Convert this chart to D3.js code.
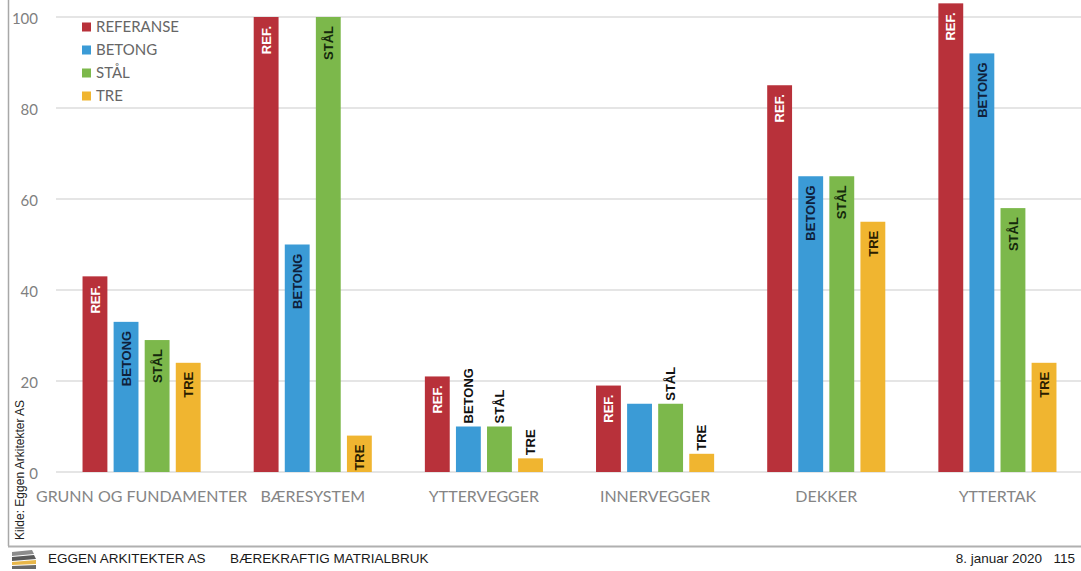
<!DOCTYPE html>
<html><head><meta charset="utf-8">
<script src="https://cdn.jsdelivr.net/npm/d3@7"></script>
<style>
html,body{margin:0;padding:0;background:#fff;}
svg{display:block;}
</style></head>
<body>
<svg id="chart" width="1081" height="571"></svg>
<script>
// ---- data ----
const categories = ["GRUNN OG FUNDAMENTER","BÆRESYSTEM","YTTERVEGGER","INNERVEGGER","DEKKER","YTTERTAK"];
const seriesNames = ["REFERANSE","BETONG","STÅL","TRE"];
const barLabels = ["REF.","BETONG","STÅL","TRE"];
const referanse = [43, 100, 21, 19, 85, 103];
const betong    = [33, 50, 10, 15, 65, 92];
const staal     = [29, 100, 10, 15, 65, 58];
const tre       = [24, 8, 3, 4, 55, 24];
// label placement per series per category: "in" = inside bar, "above" = above bar, "" = none
const placeRef    = ["in","in","in","in","in","in"];
const placeBetong = ["in","in","above","","in","in"];
const placeStaal  = ["in","in","above","above","in","in"];
const placeTre    = ["in","in","above","above","in","in"];
const yTicks = [0,20,40,60,80,100];
const sourceText = "Kilde: Eggen Arkitekter AS";
const footerLeft = ["EGGEN ARKITEKTER AS","BÆREKRAFTIG MATRIALBRUK"];
const footerRight = ["8. januar 2020","115"];

const seriesValues = [referanse, betong, staal, tre];
const seriesPlace = [placeRef, placeBetong, placeStaal, placeTre];
const colors = ["#b8313a","#3b9bd6","#7cb84b","#f0b530"];
const labelColors = ["#ffffff","#0f213c","#14280c","#2b1d00"];

const svg = d3.select("#chart");
const W = 1081, H = 571;

const x0 = d3.scaleBand().domain(categories).range([56, 1083]).paddingInner(0.31).paddingOuter(0.155);
const x1 = d3.scaleBand().domain(seriesNames).range([0, x0.bandwidth()]).paddingInner(0.2).paddingOuter(0);
const y = d3.scaleLinear().domain([0,100]).range([472, 17]);

// gridlines
svg.append("g").selectAll("line").data(yTicks).join("line")
  .attr("x1", 56).attr("x2", W)
  .attr("y1", d => y(d)).attr("y2", d => y(d))
  .attr("stroke", "#dcdcdc").attr("stroke-width", 1.5);

// y axis labels
const yAxis = d3.axisLeft(y).tickValues(yTicks).tickSize(0).tickPadding(0);
const gy = svg.append("g").attr("transform", "translate(38,2)").call(yAxis);
gy.select(".domain").remove();
gy.selectAll("text").attr("font-family","Lato, 'Open Sans', sans-serif").attr("font-size", 15).attr("fill","#7f7f7f");

// bars
const groups = svg.append("g").selectAll("g").data(categories).join("g")
  .attr("transform", d => `translate(${x0(d)},0)`);

groups.each(function(cat, ci){
  const g = d3.select(this);
  seriesNames.forEach((s, si) => {
    const v = seriesValues[si][ci];
    g.append("rect")
      .attr("x", x1(s)).attr("width", x1.bandwidth())
      .attr("y", y(v)).attr("height", y(0) - y(v))
      .attr("fill", colors[si]);
    const pl = seriesPlace[si][ci];
    if (!pl) return;
    const cx = x1(s) + x1.bandwidth()/2;
    const inside = pl === "in";
    g.append("text")
      .attr("transform", `translate(${cx},${inside ? y(v) + 9 : y(v) - 3}) rotate(-90)`)
      .attr("text-anchor", inside ? "end" : "start")
      .attr("dy", "0.36em")
      .attr("font-family", "'Liberation Sans', Arial, sans-serif")
      .attr("font-weight", "bold")
      .attr("font-size", 13)
      .attr("fill", inside ? labelColors[si] : "#111")
      .text(barLabels[si]);
  });
});

// category labels
svg.append("g").selectAll("text").data(categories).join("text")
  .attr("x", d => x0(d) + x0.bandwidth()/2)
  .attr("y", 502)
  .attr("text-anchor","middle")
  .attr("font-family","Lato, 'Open Sans', sans-serif")
  .attr("font-size", 16)
  .attr("fill","#858585")
  .text(d => d);

// legend
const legend = svg.append("g").attr("transform","translate(82,27)");
seriesNames.forEach((s, i) => {
  const row = legend.append("g").attr("transform", `translate(0,${i*23})`);
  row.append("rect").attr("x",0).attr("y",-4.5).attr("width",9).attr("height",9).attr("fill",colors[i]);
  row.append("text").attr("x",14).attr("y",0).attr("dy","0.36em")
    .attr("font-family","Lato, 'Open Sans', sans-serif").attr("font-size",15)
    .attr("fill","#666666").text(s);
});

// source text (vertical)
svg.append("text")
  .attr("transform","translate(20,540) rotate(-90)")
  .attr("dy","0.36em")
  .attr("font-family","'Liberation Sans', Arial, sans-serif")
  .attr("font-size",12).attr("fill","#222")
  .text(sourceText);

// frame lines
svg.append("line").attr("x1",8.5).attr("x2",8.5).attr("y1",0).attr("y2",546).attr("stroke","#a8a8a8").attr("stroke-width",1.5);
svg.append("line").attr("x1",8).attr("x2",W).attr("y1",546.5).attr("y2",546.5).attr("stroke","#b0b0b0").attr("stroke-width",2);

// logo
const logo = svg.append("g").attr("transform","translate(12,550)");
logo.append("polygon").attr("points","0,2 20,0 22,4 0,6").attr("fill","#8c8c8c");
logo.append("polygon").attr("points","0,7 22,5 24,9 0,11").attr("fill","#5a5a5a");
logo.append("polygon").attr("points","0,12 24,10 24,14 0,15").attr("fill","#e8b74a");
logo.append("polygon").attr("points","0,16 24,15 24,19 0,19").attr("fill","#6a6a6a");

// footer texts
const ff = "'Liberation Sans', Arial, sans-serif";
svg.append("text").attr("x",48).attr("y",563).attr("font-family",ff).attr("font-size",13.5).attr("fill","#1a1a1a").text(footerLeft[0]);
svg.append("text").attr("x",230).attr("y",563).attr("font-family",ff).attr("font-size",13.5).attr("fill","#1a1a1a").text(footerLeft[1]);
svg.append("text").attr("x",1042).attr("y",563).attr("text-anchor","end").attr("font-family",ff).attr("font-size",13.5).attr("fill","#1a1a1a").text(footerRight[0]);
svg.append("text").attr("x",1075).attr("y",563).attr("text-anchor","end").attr("font-family",ff).attr("font-size",13.5).attr("fill","#1a1a1a").text(footerRight[1]);
</script>
</body></html>
